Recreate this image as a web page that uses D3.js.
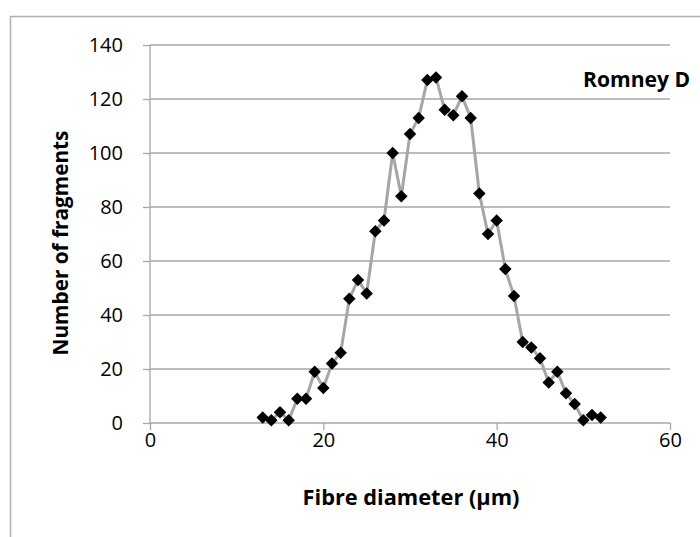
<!DOCTYPE html>
<html><head><meta charset="utf-8">
<script src="https://cdn.jsdelivr.net/npm/d3@7"></script>
<style>body{margin:0;background:#fff}svg{display:block}</style>
</head><body>
<svg id="c" width="700" height="537"></svg>
<script>
const diameters = [13,14,15,16,17,18,19,20,21,22,23,24,25,26,27,28,29,30,31,32,33,34,35,36,37,38,39,40,41,42,43,44,45,46,47,48,49,50,51,52];
const fragments = [2,1,4,1,9,9,19,13,22,26,46,53,48,71,75,100,84,107,113,127,128,116,114,121,113,85,70,75,57,47,30,28,24,15,19,11,7,1,3,2];
const xTicks = [0,20,40,60];
const yTicks = [0,20,40,60,80,100,120,140];
const seriesLabel = "Romney D";
const xTitle = "Fibre diameter (µm)";
const yTitle = "Number of fragments";

const svg = d3.select("#c");
const font = "'Open Sans', sans-serif";
const L = 150, R = 670, T = 45, B = 423;
const x = d3.scaleLinear().domain([0,60]).range([L,R]);
const y = d3.scaleLinear().domain([0,140]).range([B,T]);
const grey = "#a6a6a6";

function fit(sel, target, base) {
  sel.attr("font-size", base);
  const w = sel.node().getComputedTextLength();
  sel.attr("font-size", (base * target / w).toFixed(2));
}

// outer border
svg.append("path").attr("d","M10.5,537 V16.5 H700").attr("fill","none").attr("stroke","#b0b0b0").attr("stroke-width",1.5);

// gridlines
svg.append("g").selectAll("line").data(yTicks.filter(d=>d>0)).join("line")
  .attr("x1",L).attr("x2",R).attr("y1",d=>y(d)).attr("y2",d=>y(d))
  .attr("stroke",grey).attr("stroke-width",1.3);

// y axis
const ya = svg.append("g").attr("transform",`translate(${L},0)`)
  .call(d3.axisLeft(y).tickValues(yTicks).tickSize(7).tickPadding(20).tickFormat(d3.format("d")));
ya.select(".domain").attr("stroke",grey).attr("stroke-width",1.3).attr("d",`M-0,${B}V${T}`);
ya.selectAll(".tick line").attr("stroke",grey).attr("stroke-width",1.3);
ya.selectAll("text").attr("font-family",font).attr("font-size",20).attr("fill","#000");

// x axis
const xa = svg.append("g").attr("transform",`translate(0,${B})`)
  .call(d3.axisBottom(x).tickValues(xTicks).tickSize(7).tickPadding(3).tickFormat(d3.format("d")));
xa.select(".domain").attr("stroke",grey).attr("stroke-width",1.3).attr("d",`M${L},0H${R}`);
xa.selectAll(".tick line").attr("stroke",grey).attr("stroke-width",1.3);
xa.selectAll("text").attr("font-family",font).attr("font-size",20).attr("fill","#000");

// line
svg.append("path").datum(d3.zip(diameters,fragments))
  .attr("fill","none").attr("stroke","#a6a6a6").attr("stroke-width",3).attr("stroke-linejoin","round")
  .attr("d", d3.line().x(d=>x(d[0])).y(d=>y(d[1])));

// markers
const sym = d3.symbol().type(d3.symbolSquare).size(78);
svg.append("g").selectAll("path").data(d3.zip(diameters,fragments)).join("path")
  .attr("d",sym).attr("fill","#000")
  .attr("transform",d=>`translate(${x(d[0])},${y(d[1])}) rotate(45)`);

// titles
const xt = svg.append("text").attr("x",411).attr("y",505).attr("text-anchor","middle")
  .attr("font-family",font).attr("font-weight","bold").text(xTitle);
fit(xt, 217, 18);
const yt = svg.append("text").attr("transform",`translate(68,${243}) rotate(-90)`).attr("text-anchor","middle")
  .attr("font-family",font).attr("font-weight","bold").text(yTitle);
fit(yt, 225, 18);
const st = svg.append("text").attr("x",690).attr("y",87).attr("text-anchor","end")
  .attr("font-family",font).attr("font-weight","bold").text(seriesLabel);
fit(st, 107, 19);
</script>
</body></html>
